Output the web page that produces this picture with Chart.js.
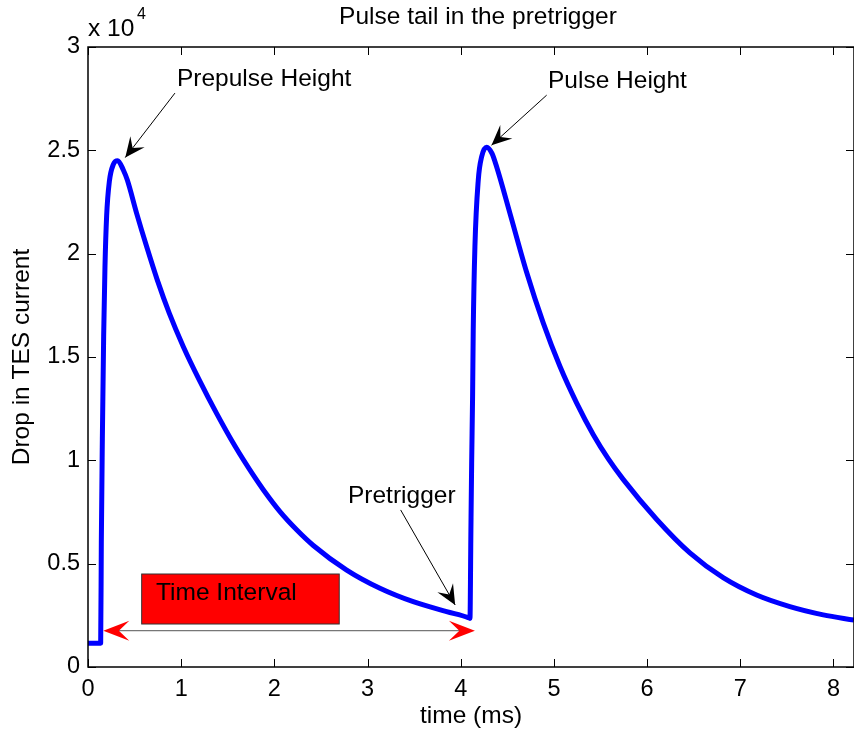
<!DOCTYPE html>
<html>
<head>
<meta charset="utf-8">
<title>Pulse tail in the pretrigger</title>
<script src="https://cdn.jsdelivr.net/npm/chart.js"></script>
<style>
  html, body { margin: 0; padding: 0; background: #fff; }
</style>
</head>
<body>
<canvas id="chart-pulse" width="854" height="734"></canvas>
<script>
// values (time in ms, drop in TES current in raw units)
const timeMs = [
  0, 0.136, 0.143, 0.154, 0.168, 0.182, 0.2, 0.229, 0.272, 0.318,
  0.379, 0.422, 0.522, 0.63, 0.744, 0.873, 1.023, 1.195, 1.38, 1.577,
  1.774, 1.881, 2.06, 2.239, 2.418, 2.776, 3.133, 3.49, 3.849, 4.08,
  4.099, 4.109, 4.117, 4.127, 4.134, 4.152, 4.188, 4.224, 4.278, 4.335,
  4.385, 4.528, 4.707, 4.885, 5.064, 5.243, 5.421, 5.582, 5.743, 6.101,
  6.459, 6.816, 7.175, 7.532, 7.89, 8.22
];
const dropCurrent = [
  1150, 1150, 6050, 11030, 16010, 19340, 21830, 23490, 24320, 24500,
  24050, 23560, 21950, 20330, 18720, 17110, 15500, 13880, 12270, 10690,
  9280, 8580, 7520, 6640, 5880, 4690, 3810, 3160, 2680, 2390,
  2350, 6630, 9850, 13080, 16300, 20330, 23560, 24690, 25150, 24850,
  24200, 21950, 19100, 16650, 14550, 12780, 11250, 10080, 9080, 7150,
  5520, 4320, 3480, 2920, 2520, 2270
];
const xTicks = [0, 1, 2, 3, 4, 5, 6, 7, 8];
const yTicks = [0, 5000, 10000, 15000, 20000, 25000, 30000];

const FONT = "'Liberation Sans', Arial, Helvetica, sans-serif";
const TEXT_PX = 24.5;

// annotation anchors, in data units (ms, current)
const arrowNotes = [
  { text: 'Prepulse Height', at: [0.955, 28450], from: [0.933, 27770], to: [0.40, 24650] },
  { text: 'Pulse Height',    at: [4.936, 28350], from: [4.922, 27670], to: [4.33, 25250] },
  { text: 'Pretrigger',      at: [2.79, 8270],   from: [3.355, 7600],  to: [3.94, 3000] }
];
const intervalBox = { text: 'Time Interval', x0: 0.576, x1: 2.696, y0: 4500, y1: 2080, textAt: [0.73, 3580] };
const intervalArrow = { x0: 0.164, x1: 4.152, y: 1756 };

function arrowHead(ctx, x0, y0, x1, y1, len, half, notch, color) {
  const a = Math.atan2(y1 - y0, x1 - x0);
  const c = Math.cos(a), s = Math.sin(a);
  const bx = x1 - c * len, by = y1 - s * len;
  const nx = x1 - c * len * notch, ny = y1 - s * len * notch;
  ctx.beginPath();
  ctx.moveTo(x1, y1);
  ctx.lineTo(bx - s * half, by + c * half);
  ctx.lineTo(nx, ny);
  ctx.lineTo(bx + s * half, by - c * half);
  ctx.closePath();
  ctx.fillStyle = color;
  ctx.fill();
}

const matlabFrame = {
  id: 'matlabFrame',
  afterDraw(chart) {
    const { ctx, chartArea: a, scales: { x, y } } = chart;
    ctx.save();
    // box + inward ticks
    ctx.strokeStyle = '#000';
    ctx.lineWidth = 1.5;
    ctx.strokeRect(a.left, a.top, a.right - a.left, a.bottom - a.top);
    ctx.lineWidth = 1;
    ctx.beginPath();
    x.ticks.forEach(t => {
      const px = Math.round(x.getPixelForValue(t.value)) + 0.5;
      ctx.moveTo(px, a.bottom); ctx.lineTo(px, a.bottom - 8);
      ctx.moveTo(px, a.top); ctx.lineTo(px, a.top + 8);
    });
    y.ticks.forEach(t => {
      const py = Math.round(y.getPixelForValue(t.value)) + 0.5;
      ctx.moveTo(a.left, py); ctx.lineTo(a.left + 8, py);
      ctx.moveTo(a.right, py); ctx.lineTo(a.right - 8, py);
    });
    ctx.stroke();

    // title and exponent
    ctx.fillStyle = '#000';
    ctx.textBaseline = 'middle';
    ctx.textAlign = 'center';
    ctx.font = TEXT_PX + 'px ' + FONT;
    ctx.fillText('Pulse tail in the pretrigger', 478, 17);
    ctx.textAlign = 'left';
    ctx.fillText('x 10', 88, 29);
    ctx.font = '16px ' + FONT;
    ctx.fillText('4', 137, 15);

    // red box
    const bx0 = x.getPixelForValue(intervalBox.x0), bx1 = x.getPixelForValue(intervalBox.x1);
    const by0 = y.getPixelForValue(intervalBox.y0), by1 = y.getPixelForValue(intervalBox.y1);
    ctx.fillStyle = '#ff0000';
    ctx.fillRect(bx0, by0, bx1 - bx0, by1 - by0);
    ctx.strokeStyle = '#333';
    ctx.lineWidth = 1;
    ctx.strokeRect(bx0, by0, bx1 - bx0, by1 - by0);
    ctx.fillStyle = '#000';
    ctx.font = TEXT_PX + 'px ' + FONT;
    ctx.fillText(intervalBox.text, x.getPixelForValue(intervalBox.textAt[0]), y.getPixelForValue(intervalBox.textAt[1]));

    // double arrow for the interval
    const ax0 = x.getPixelForValue(intervalArrow.x0), ax1 = x.getPixelForValue(intervalArrow.x1);
    const ay = y.getPixelForValue(intervalArrow.y);
    ctx.strokeStyle = '#555';
    ctx.beginPath();
    ctx.moveTo(ax0 + 10, ay); ctx.lineTo(ax1 - 10, ay);
    ctx.stroke();
    arrowHead(ctx, ax1, ay, ax0, ay, 26, 10, 0.6, '#ff0000');
    arrowHead(ctx, ax0, ay, ax1, ay, 26, 10, 0.6, '#ff0000');

    // text arrows
    arrowNotes.forEach(n => {
      const fx = x.getPixelForValue(n.from[0]), fy = y.getPixelForValue(n.from[1]);
      const tx = x.getPixelForValue(n.to[0]), ty = y.getPixelForValue(n.to[1]);
      ctx.strokeStyle = '#000';
      ctx.lineWidth = 1;
      ctx.beginPath();
      ctx.moveTo(fx, fy); ctx.lineTo(tx, ty);
      ctx.stroke();
      arrowHead(ctx, fx, fy, tx, ty, 20, 9, 0.6, '#000');
      ctx.fillStyle = '#000';
      ctx.font = TEXT_PX + 'px ' + FONT;
      ctx.fillText(n.text, x.getPixelForValue(n.at[0]), y.getPixelForValue(n.at[1]));
    });
    ctx.restore();
  }
};

new Chart(document.getElementById('chart-pulse'), {
  type: 'line',
  data: {
    datasets: [{
      data: timeMs.map((t, i) => ({ x: t, y: dropCurrent[i] })),
      borderColor: '#0000ff',
      borderWidth: 5,
      pointRadius: 0,
      cubicInterpolationMode: 'monotone',
      borderJoinStyle: 'round'
    }]
  },
  options: {
    responsive: false,
    animation: false,
    devicePixelRatio: 1,
    layout: { padding: { top: 47, right: 0, left: 0, bottom: 0 } },
    plugins: { legend: { display: false }, tooltip: { enabled: false }, title: { display: false } },
    scales: {
      x: {
        type: 'linear',
        min: 0,
        max: 8.22,
        afterBuildTicks: s => { s.ticks = xTicks.map(v => ({ value: v })); },
        afterFit: s => { s.height = 67; },
        grid: { display: false, drawTicks: false },
        border: { display: false },
        ticks: { color: '#000', padding: 8, maxRotation: 0, font: { family: FONT, size: 23.5 } },
        title: { display: true, text: 'time (ms)', color: '#000', padding: { top: 0, bottom: 3 }, font: { family: FONT, size: TEXT_PX, lineHeight: 1.2 } }
      },
      y: {
        min: 0,
        max: 30000,
        afterBuildTicks: s => { s.ticks = yTicks.map(v => ({ value: v })); },
        afterFit: s => { s.width = 88; },
        grid: { display: false, drawTicks: false },
        border: { display: false },
        ticks: { color: '#000', padding: 8, callback: v => String(v / 10000), font: { family: FONT, size: 23.5 } },
        title: { display: true, text: 'Drop in TES current', color: '#000', padding: { top: 8, bottom: 0 }, font: { family: FONT, size: TEXT_PX, lineHeight: 1.2 } }
      }
    }
  },
  plugins: [matlabFrame]
});
</script>
</body>
</html>
